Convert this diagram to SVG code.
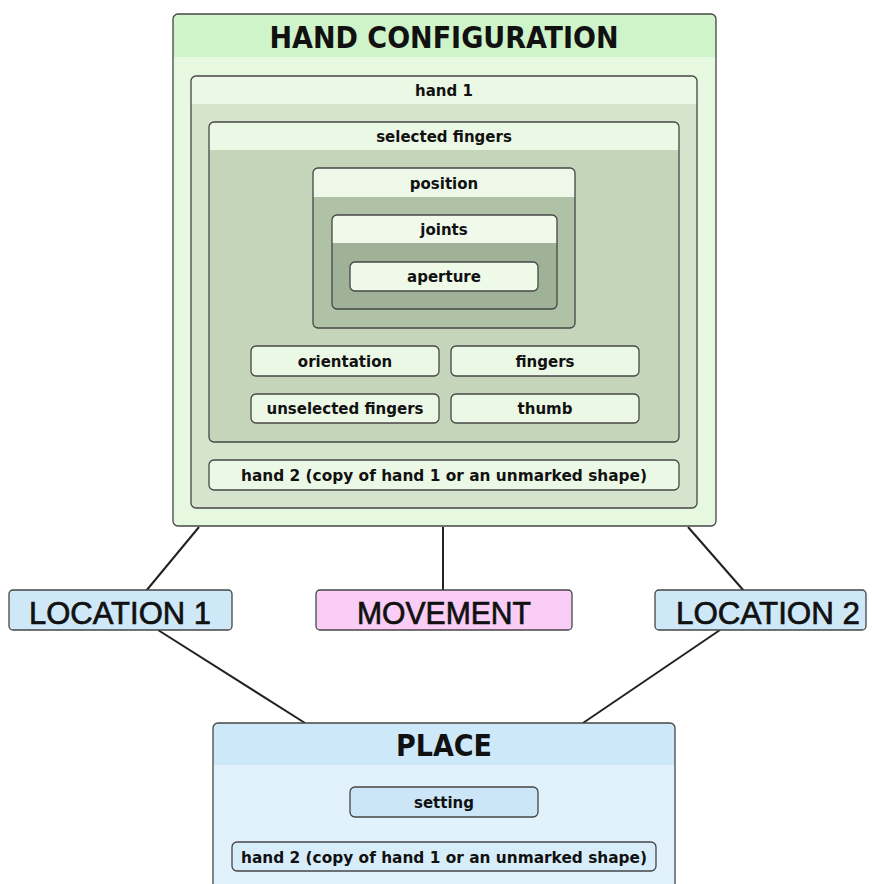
<svg xmlns="http://www.w3.org/2000/svg" width="872" height="884" viewBox="0 0 872 884">
<style>
.b{stroke:#454545;stroke-width:1.3}
.t{font-family:"DejaVu Sans",sans-serif;font-weight:bold;fill:#111;text-anchor:middle}
.s{font-size:15px}
.big{font-family:"DejaVu Sans Condensed","DejaVu Sans",sans-serif;font-stretch:condensed;font-size:30px}
.loc{font-family:"Liberation Sans",Arial,sans-serif;font-size:32px;fill:#111;text-anchor:middle;stroke:#111;stroke-width:0.7}
.c{stroke:#222;stroke-width:2;fill:none}
</style>
<rect width="872" height="884" fill="#fff"/>
<g id="connectors">
<line class="c" x1="199" y1="527" x2="146" y2="591"/>
<line class="c" x1="443" y1="527" x2="443" y2="591"/>
<line class="c" x1="688" y1="527" x2="744" y2="591"/>
<line class="c" x1="158" y1="630" x2="305" y2="723"/>
<line class="c" x1="720" y1="630" x2="583" y2="723"/>
</g>
<g id="hand-configuration">
<rect x="173" y="14" width="543" height="512" rx="5" fill="#e6f9e0"/>
<path d="M173 57 V19 a5 5 0 0 1 5 -5 H711 a5 5 0 0 1 5 5 V57 Z" fill="#cff4c9"/>
<rect class="b" x="173" y="14" width="543" height="512" rx="5" fill="none"/>
<text class="t big" x="444" y="48">HAND CONFIGURATION</text>
</g>
<g id="hand1">
<rect x="191" y="76" width="506" height="432" rx="5" fill="#d6e4cd"/>
<path d="M191 104 V81 a5 5 0 0 1 5 -5 H692 a5 5 0 0 1 5 5 V104 Z" fill="#ebf8e5"/>
<rect class="b" x="191" y="76" width="506" height="432" rx="5" fill="none"/>
<text class="t s" x="444" y="96">hand 1</text>
</g>
<g id="selected-fingers">
<rect x="209" y="122" width="470" height="320" rx="5" fill="#c4d5b9"/>
<path d="M209 150 V127 a5 5 0 0 1 5 -5 H674 a5 5 0 0 1 5 5 V150 Z" fill="#ecf8e6"/>
<rect class="b" x="209" y="122" width="470" height="320" rx="5" fill="none"/>
<text class="t s" x="444" y="142">selected fingers</text>
</g>
<g id="position">
<rect x="313" y="168" width="262" height="160" rx="5" fill="#afc2a5"/>
<path d="M313 197 V173 a5 5 0 0 1 5 -5 H570 a5 5 0 0 1 5 5 V197 Z" fill="#eef8e8"/>
<rect class="b" x="313" y="168" width="262" height="160" rx="5" fill="none"/>
<text class="t s" x="444" y="189">position</text>
</g>
<g id="joints">
<rect x="332" y="215" width="225" height="94" rx="5" fill="#9fb197"/>
<path d="M332 243 V220 a5 5 0 0 1 5 -5 H552 a5 5 0 0 1 5 5 V243 Z" fill="#f0f9ea"/>
<rect class="b" x="332" y="215" width="225" height="94" rx="5" fill="none"/>
<text class="t s" x="444" y="235">joints</text>
</g>
<g id="aperture">
<rect class="b" x="350" y="262" width="188" height="29" rx="5" fill="#eef9e8"/>
<text class="t s" x="444" y="282">aperture</text>
</g>
<g id="orientation">
<rect class="b" x="251" y="346" width="188" height="30" rx="5" fill="#ecf8e6"/>
<text class="t s" x="345" y="367">orientation</text>
</g>
<g id="fingers">
<rect class="b" x="451" y="346" width="188" height="30" rx="5" fill="#ecf8e6"/>
<text class="t s" x="545" y="367">fingers</text>
</g>
<g id="unselected-fingers">
<rect class="b" x="251" y="394" width="188" height="29" rx="5" fill="#ecf8e6"/>
<text class="t s" x="345" y="414">unselected fingers</text>
</g>
<g id="thumb">
<rect class="b" x="451" y="394" width="188" height="29" rx="5" fill="#ecf8e6"/>
<text class="t s" x="545" y="414">thumb</text>
</g>
<g id="hand2-hc">
<rect class="b" x="209" y="460" width="470" height="30" rx="5" fill="#ecf8e6"/>
<text class="t s" x="444" y="481" textLength="406" lengthAdjust="spacingAndGlyphs">hand 2 (copy of hand 1 or an unmarked shape)</text>
</g>
<g id="location1">
<rect class="b" x="9" y="590" width="223" height="40" rx="4" fill="#cfe8f8"/>
<text class="loc" x="120" y="624" textLength="182" lengthAdjust="spacingAndGlyphs">LOCATION 1</text>
</g>
<g id="movement">
<rect class="b" x="316" y="590" width="256" height="40" rx="4" fill="#f9cdf5"/>
<text class="loc" x="444" y="624" textLength="174" lengthAdjust="spacingAndGlyphs">MOVEMENT</text>
</g>
<g id="location2">
<rect class="b" x="655" y="590" width="211" height="40" rx="4" fill="#cfe8f8"/>
<text class="loc" x="768" y="624" textLength="184" lengthAdjust="spacingAndGlyphs">LOCATION 2</text>
</g>
<g id="place">
<rect x="213" y="723" width="462" height="170" rx="5" fill="#e1f2fc"/>
<path d="M213 765 V728 a5 5 0 0 1 5 -5 H670 a5 5 0 0 1 5 5 V765 Z" fill="#cce8f9"/>
<rect class="b" x="213" y="723" width="462" height="170" rx="5" fill="none"/>
<text class="t big" x="444" y="756">PLACE</text>
</g>
<g id="setting">
<rect class="b" x="350" y="787" width="188" height="30" rx="5" fill="#cce6f7"/>
<text class="t s" x="444" y="808">setting</text>
</g>
<g id="hand2-place">
<rect class="b" x="232" y="842" width="424" height="29" rx="5" fill="#d7edf9"/>
<text class="t s" x="444" y="863" textLength="406" lengthAdjust="spacingAndGlyphs">hand 2 (copy of hand 1 or an unmarked shape)</text>
</g>
</svg>
